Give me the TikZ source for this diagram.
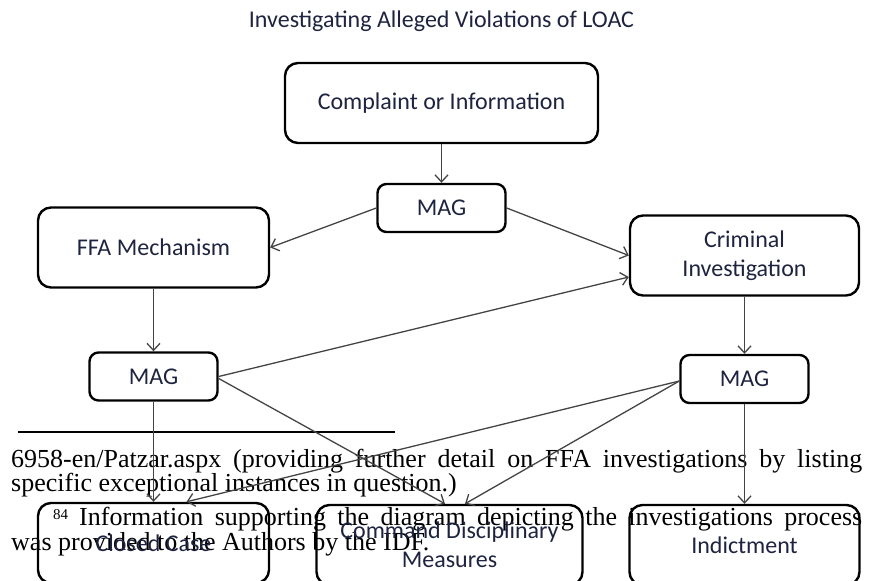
\documentclass[tikz,border=0pt]{standalone}
\usepackage{fontspec}
\setmainfont{Carlito}
\newfontfamily\notefont{Liberation Serif}
\usepackage{tikz}
\usetikzlibrary{arrows.meta}
\definecolor{ink}{HTML}{1E2440}
\definecolor{wire}{HTML}{444444}
\tikzstyle{block} = [rectangle, draw, line width=2.4pt, rounded corners=13pt,
    minimum width=231pt, minimum height=80pt, text=ink, align=center,
    font=\fontsize{24}{29}\selectfont]
\tikzstyle{mag} = [block, minimum width=128pt, minimum height=48pt, rounded corners=9pt]
\tikzstyle{line} = [draw, wire, line width=1.3pt, -{Straight Barb[length=7pt,width=13pt]}]
\tikzstyle{note} = [text width=851pt, align=justify, inner sep=0pt,
    font=\notefont\fontsize{26}{24.5}\selectfont]

\begin{document}
\begin{tikzpicture}
      \useasboundingbox (0pt,0pt) rectangle (889pt,-581pt);
      % footnote text lying under the chart
      \draw [line width=1.4pt] (18pt,-432pt) -- (395pt,-432pt);
      \node [note, anchor=base west] (note) at (11pt,-467pt)
         {6958-en/Patzar.aspx (providing further detail on FFA investigations by listing\linebreak
          specific exceptional instances in question.)\par\vspace{9.5pt}%
          \hspace*{42pt}\raisebox{6pt}{\fontsize{15}{15}\selectfont 84}\hspace{11pt}Information
          supporting the diagram depicting the investigations process\linebreak
          was provided to the Authors by the IDF.};

      \node [block, minimum width=313pt] (complaint) at (441.5pt,-103pt) {Complaint or Information};
      \node [above of=complaint, node distance=76pt, anchor=base, text=ink,
         font=\fontsize{24}{29}\selectfont] (title) {Investigating Alleged Violations of LOAC};
      \node [mag, below of=complaint, node distance=105pt] (magtop) {MAG};
      \node [block, left of=magtop, node distance=288pt, yshift=-39.5pt] (ffa) {FFA Mechanism};
      \node [block, right of=magtop, node distance=303pt, yshift=-47.5pt, minimum width=229pt]
         (criminal) {Criminal\\Investigation};
      \node [mag, below of=ffa, node distance=129pt] (magleft) {MAG};
      \node [mag, below of=criminal, node distance=123.5pt] (magright) {MAG};
      \node [block, below of=magleft, node distance=166.5pt] (closed) {Closed Case};
      \node [block, below of=magright, node distance=166pt, minimum width=230pt] (indict) {Indictment};
      \node [block, left of=indict, node distance=295pt, minimum width=266pt]
         (command) {Command Disciplinary\\Measures};

      \path [line] (complaint) -- (magtop);
      \path [line] (magtop.west) -- (ffa.east);
      \path [line] (magtop.east) -- (criminal.west);
      \path [line] (ffa) -- (magleft);
      \path [line] (criminal) -- (magright);
      \path [line] (magleft.east) -- ([yshift=-21.5pt]criminal.west);
      \path [line] (magleft) -- (closed);
      \path [line] ([yshift=-2pt]magleft.east) -- ([xshift=-4.5pt]command.north);
      \path [line] ([yshift=-2pt]magright.west) -- ([xshift=33pt]closed.north);
      \path [line] ([yshift=-2pt]magright.west) -- ([xshift=15.5pt]command.north);
      \path [line] (magright) -- (indict);
\end{tikzpicture}
\end{document}
